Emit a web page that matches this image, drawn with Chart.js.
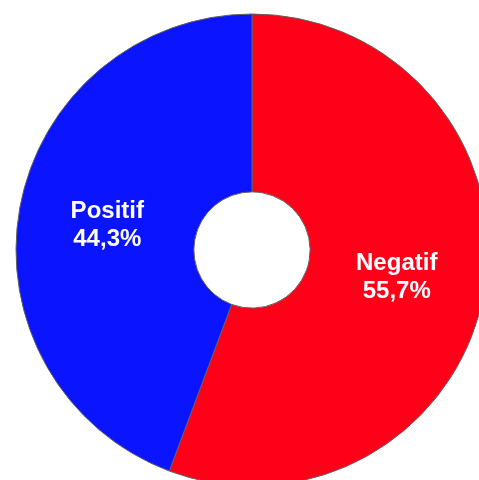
<!DOCTYPE html>
<html>
<head>
<meta charset="utf-8">
<script src="https://cdn.jsdelivr.net/npm/chart.js@4/dist/chart.umd.min.js"></script>
<style>
html, body { margin: 0; padding: 0; overflow: hidden; background: #ffffff; width: 479px; height: 480px; }
#wrap { position: absolute; left: 0; top: 0; width: 504px; height: 500px; }
</style>
</head>
<body>
<div id="wrap"><canvas id="c"></canvas></div>
<script>
const categories = ["Negatif", "Positif"];
const values = [55.7, 44.3];
const valueLabels = ["55,7%", "44,3%"];
const colors = ["#FF0019", "#0A14FF"];

const labelPlugin = {
  id: "sliceLabels",
  afterDatasetsDraw(chart) {
    const ctx = chart.ctx;
    const meta = chart.getDatasetMeta(0);
    ctx.save();
    ctx.fillStyle = "#ffffff";
    ctx.textAlign = "center";
    ctx.textBaseline = "alphabetic";
    ctx.font = "bold 24px 'Liberation Sans', Arial, sans-serif";
    meta.data.forEach((arc, i) => {
      const p = arc.tooltipPosition();
      ctx.fillText(categories[i], p.x, p.y - 6);
      ctx.fillText(valueLabels[i], p.x, p.y + 22);
    });
    ctx.restore();
  }
};

new Chart(document.getElementById("c"), {
  type: "doughnut",
  data: {
    labels: categories,
    datasets: [{
      data: values,
      backgroundColor: colors,
      borderColor: "#606060",
      borderWidth: 1,
      hoverOffset: 0,
      offset: 0,
      radius: 236,
      cutout: 58
    }]
  },
  options: {
    responsive: true,
    maintainAspectRatio: false,
    animation: false,
    events: [],
    layout: { padding: { left: 16, right: 16, top: 14, bottom: 14 } },
    plugins: { legend: { display: false }, tooltip: { enabled: false } }
  },
  plugins: [labelPlugin]
});
</script>
</body>
</html>
